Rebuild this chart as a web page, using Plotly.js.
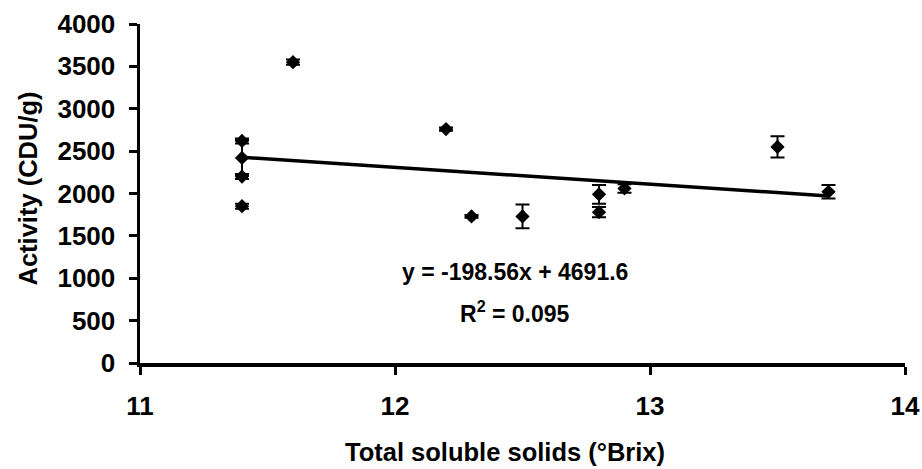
<!DOCTYPE html>
<html>
<head>
<meta charset="utf-8">
<script src="https://cdn.plot.ly/plotly-3.0.1.min.js"></script>
<style>
  html, body { margin: 0; padding: 0; background: #ffffff; }
  #chart { width: 922px; height: 469px; }
</style>
</head>
<body>
<div id="chart"></div>
<script>
// Total soluble solids (°Brix) of each sample
const brix = [11.4, 11.4, 11.4, 11.4, 11.6, 12.2, 12.3, 12.5, 12.8, 12.8, 12.9, 13.5, 13.7];
// Enzyme activity (CDU/g)
const activity = [2620, 2420, 2200, 1850, 3550, 2760, 1730, 1730, 1990, 1780, 2060, 2550, 2020];
// Standard deviation of activity
const activitySd = [30, 210, 30, 30, 30, 20, 15, 140, 110, 60, 50, 125, 80];

// Linear fit reported on the chart
const slope = -198.56;
const intercept = 4691.6;
const rSquared = 0.095;

const xTicks = [11, 12, 13, 14];
const yTicks = [0, 500, 1000, 1500, 2000, 2500, 3000, 3500, 4000];

const xTitle = 'Total soluble solids (°Brix)';
const yTitle = 'Activity (CDU/g)';

const fitX = [Math.min(...brix), Math.max(...brix)];
const fitY = fitX.map(x => slope * x + intercept);

const FONT = 'Liberation Sans, Arial, sans-serif';

const samples = {
  x: brix,
  y: activity,
  type: 'scatter',
  mode: 'markers',
  marker: { symbol: 'diamond', size: 11, color: '#000000' },
  error_y: { type: 'data', array: activitySd, visible: true, color: '#000000', thickness: 2, width: 7 },
  hoverinfo: 'x+y',
  showlegend: false
};

const fit = {
  x: fitX,
  y: fitY,
  type: 'scatter',
  mode: 'lines',
  line: { color: '#000000', width: 3.5 },
  hoverinfo: 'skip',
  showlegend: false
};

const tickFont = { family: FONT, size: 26, weight: 'bold', color: '#000000' };
const titleFont = { family: FONT, size: 25.5, weight: 'bold', color: '#000000' };
const fitFont = { family: FONT, size: 23, weight: 'bold', color: '#000000' };

const axisStyle = {
  showgrid: false,
  zeroline: false,
  showline: true,
  linecolor: '#000000',
  linewidth: 3.5,
  ticks: 'outside',
  ticklen: 8,
  tickwidth: 3,
  tickcolor: '#000000',
  tickfont: tickFont,
  fixedrange: true
};

const layout = {
  width: 922,
  height: 469,
  paper_bgcolor: '#ffffff',
  plot_bgcolor: 'rgba(0,0,0,0)',
  margin: { l: 140, r: 17, t: 24, b: 106 },
  font: { family: FONT, color: '#000000', weight: 'bold' },
  xaxis: Object.assign({}, axisStyle, {
    range: [11, 14],
    tickvals: xTicks,
    ticktext: xTicks.map(String),
    ticklabelstandoff: 9
  }),
  yaxis: Object.assign({}, axisStyle, {
    range: [0, 4000],
    tickvals: yTicks,
    ticktext: yTicks.map(String),
    ticklabelstandoff: 8
  }),
  annotations: [
    // axis titles, centred on the chart area
    {
      x: 0.477, y: -0.2625, xref: 'paper', yref: 'paper',
      xanchor: 'center', yanchor: 'middle',
      text: xTitle, showarrow: false, font: titleFont
    },
    {
      x: -0.1464, y: 0.5147, xref: 'paper', yref: 'paper',
      xanchor: 'center', yanchor: 'middle', textangle: -90,
      text: yTitle, showarrow: false, font: titleFont
    },
    // fitted line equation
    {
      x: 12.47, y: 1075, xref: 'x', yref: 'y',
      text: 'y = ' + slope.toFixed(2) + 'x + ' + intercept.toFixed(1),
      showarrow: false, font: fitFont
    },
    {
      x: 12.47, y: 600, xref: 'x', yref: 'y',
      text: 'R<sup>2</sup> = ' + rSquared.toFixed(3),
      showarrow: false, font: fitFont
    }
  ]
};

Plotly.newPlot('chart', [fit, samples], layout, { displayModeBar: false, staticPlot: true });
</script>
</body>
</html>
